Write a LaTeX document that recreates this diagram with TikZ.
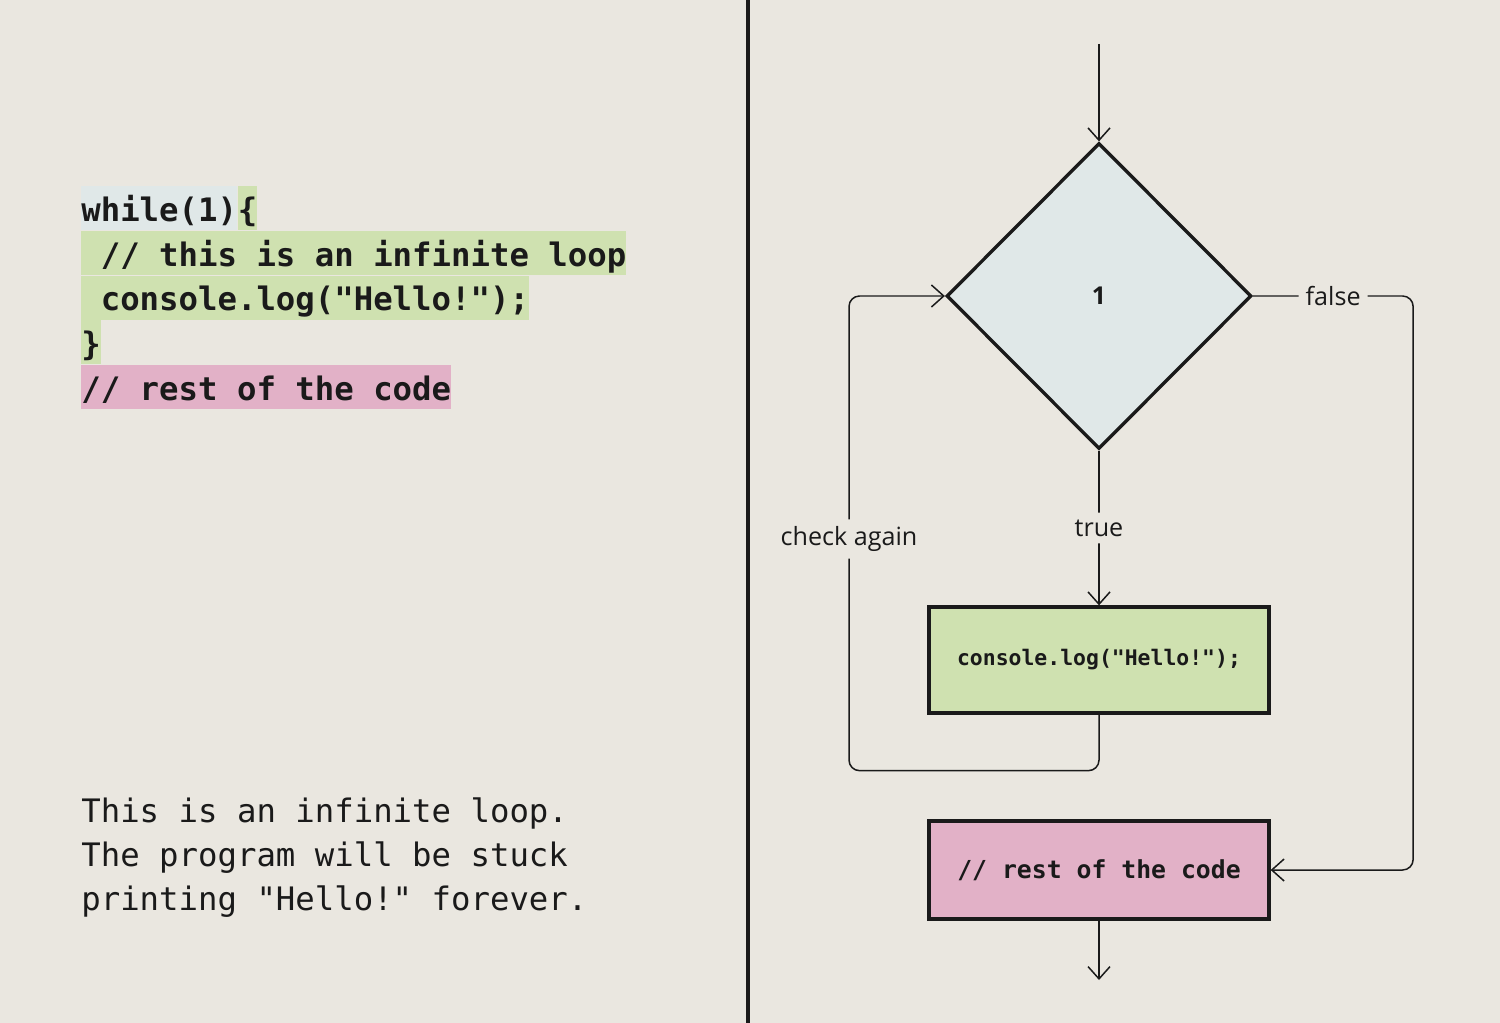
\documentclass[tikz,border=0pt]{standalone}
\usepackage{fontspec}
\usepackage{xcolor}
\usepackage{tikz}
\usetikzlibrary{shapes.geometric, arrows.meta, positioning, calc}
\newfontfamily\codefont{DejaVu Sans Mono}
\newfontfamily\labelfont{Open Sans}
\definecolor{bgcolor}{RGB}{234,231,224}
\definecolor{condcolor}{RGB}{224,232,232}
\definecolor{loopcolor}{RGB}{207,225,176}
\definecolor{restcolor}{RGB}{226,177,199}
\definecolor{inkcolor}{RGB}{26,26,26}
\frenchspacing

\begin{document}
\begin{tikzpicture}[
    x=0.02cm, y=-0.02cm,
    codeline/.style={inner xsep=0pt, inner ysep=0pt, text height=0.70cm, text depth=0.18cm, anchor=north west, font=\codefont\bfseries\fontsize{18.4pt}{24.9pt}\selectfont, text=inkcolor},
    box/.style={draw=inkcolor, line width=1.9pt, minimum width=6.8cm, align=center, text=inkcolor},
    decision/.style={diamond, aspect=1, draw=inkcolor, line width=1.9pt, fill=condcolor, minimum width=6.1cm, minimum height=6.12cm, inner sep=0pt, text=inkcolor, font=\labelfont\bfseries\fontsize{14pt}{16pt}\selectfont},
    arrow/.style={-{Straight Barb[length=7pt, width=12.5pt]}, line width=0.85pt, draw=inkcolor, rounded corners=6pt},
    lbl/.style={fill=bgcolor, inner sep=4pt, text=inkcolor, font=\labelfont\fontsize{14.3pt}{16pt}\selectfont}
]
    \fill[bgcolor] (0,0) rectangle (1500,1023);
    \useasboundingbox (0,0) rectangle (1500,1023);

    % code listing
    \node[codeline, fill=condcolor] (while) at (81,186) {while(1)};
    \node[codeline, fill=loopcolor] (open) at (while.north east) {\{};
    \node[codeline, fill=loopcolor] (comment) at (while.south west) {\ // this is an infinite loop};
    \node[codeline, fill=loopcolor] (print) at (comment.south west) {\ console.log("Hello!");};
    \node[codeline, fill=loopcolor] (close) at (print.south west) {\}};
    \node[codeline, fill=restcolor] (after) at (close.south west) {// rest of the code};

    \node[anchor=north west, inner sep=0pt, align=left, text=inkcolor, font=\codefont\fontsize{18.4pt}{25.2pt}\selectfont] (note) at (81,797) {This is an infinite loop.\\The program will be stuck\\printing "Hello!" forever.};

    \draw[line width=2.3pt, inkcolor] (748,0) -- (748,1023);

    % flowchart
    \coordinate (entry) at (1099,44);
    \node[decision] (cond) at (1099,296) {1};
    \node[box, fill=loopcolor, minimum height=2.12cm, font=\codefont\bfseries\fontsize{12.2pt}{14pt}\selectfont] (hello) at (1099,660) {console.log("Hello!");};
    \node[box, fill=restcolor, minimum height=1.96cm, font=\codefont\bfseries\fontsize{14.1pt}{16pt}\selectfont] (rest) at (1099,870) {// rest of the code};
    \coordinate (exit) at (1099,980);

    \draw[arrow] (entry) -- (cond.north);
    \draw[arrow] (cond.south) -- node[lbl] {true} (hello.north);
    \draw[arrow] (cond.east) -- node[lbl] {false} ++(160,0) |- (rest.east);
    \draw[arrow] (hello.south) |- ++(-250,56) |- node[lbl, pos=0.244] {check again} (cond.west);
    \draw[arrow] (rest.south) -- (exit);
\end{tikzpicture}
\end{document}
